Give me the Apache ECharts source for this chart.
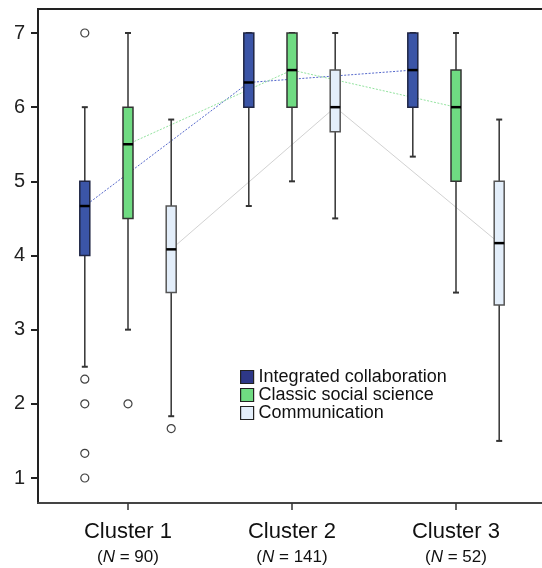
<!DOCTYPE html>
<html>
<head>
<meta charset="utf-8">
<script src="https://cdn.jsdelivr.net/npm/echarts@6/dist/echarts.min.js"></script>
<style>
  html, body { margin: 0; padding: 0; background: #fff; }
  #chart { width: 542px; height: 568px; }
</style>
</head>
<body>
<div id="chart"></div>
<script>
// Categories and group sizes
const clusters = ['Cluster 1', 'Cluster 2', 'Cluster 3'];
const clusterN = [90, 141, 52];
const groupNames = ['Integrated collaboration', 'Classic social science', 'Communication'];

// Five-number summaries per cluster: [lower whisker, Q1, median, Q3, upper whisker]
const integratedBoxes = [
  [2.5, 4, 4.667, 5, 6],
  [4.667, 6, 6.333, 7, 7],
  [5.333, 6, 6.5, 7, 7]
];
const classicBoxes = [
  [3, 4.5, 5.5, 6, 7],
  [5, 6, 6.5, 7, 7],
  [3.5, 5, 6, 6.5, 7]
];
const communicationBoxes = [
  [1.833, 3.5, 4.083, 4.667, 5.833],
  [4.5, 5.667, 6, 6.5, 7],
  [1.5, 3.333, 4.167, 5, 5.833]
];

// Outlying observations per cluster
const integratedOutliers = [[7, 2.333, 2, 1.333, 1], [], []];
const classicOutliers = [[2], [], []];
const communicationOutliers = [[1.667], [], []];

// Axis ticks
const yTicks = [1, 2, 3, 4, 5, 6, 7];
const xTicks = [1, 2, 3];

// ---- presentation ----
const FONT = '"Liberation Sans", Arial, Helvetica, sans-serif';
const BOX_W = 10;
const CAP_W = 6;
const WHISKER_COLOR = '#333';

const groups = [
  { name: groupNames[0], boxes: integratedBoxes, outliers: integratedOutliers, offset: -0.2634,
    fill: '#3b55a7', stroke: '#1f2544', legendFill: '#2e3888',
    line: { color: '#5669cc', width: 1, type: [2, 1.5] } },
  { name: groupNames[1], boxes: classicBoxes, outliers: classicOutliers, offset: 0,
    fill: '#6fdb82', stroke: '#333', legendFill: '#6fdb82',
    line: { color: '#93e39f', width: 1, type: [2, 1.5] } },
  { name: groupNames[2], boxes: communicationBoxes, outliers: communicationOutliers, offset: 0.2634,
    fill: '#e3eefa', stroke: '#555', legendFill: '#e3eefa',
    line: { color: '#d2d2d2', width: 1, type: 'solid' } }
];

function makeRenderer(g) {
  return function (params, api) {
    const x = api.value(0) + g.offset;
    const lo = api.coord([x, api.value(1)]);
    const q1 = api.coord([x, api.value(2)]);
    const md = api.coord([x, api.value(3)]);
    const q3 = api.coord([x, api.value(4)]);
    const hi = api.coord([x, api.value(5)]);
    const cx = lo[0];
    const hw = BOX_W / 2, cw = CAP_W / 2;
    const wStyle = { stroke: WHISKER_COLOR, lineWidth: 1.5 };
    const capStyle = { stroke: WHISKER_COLOR, lineWidth: 2 };
    return {
      type: 'group',
      children: [
        { type: 'line', shape: { x1: cx, y1: q3[1], x2: cx, y2: hi[1] }, style: wStyle },
        { type: 'line', shape: { x1: cx, y1: q1[1], x2: cx, y2: lo[1] }, style: wStyle },
        { type: 'line', shape: { x1: cx - cw, y1: hi[1], x2: cx + cw, y2: hi[1] }, style: capStyle },
        { type: 'line', shape: { x1: cx - cw, y1: lo[1], x2: cx + cw, y2: lo[1] }, style: capStyle },
        { type: 'rect', shape: { x: cx - hw, y: q3[1], width: BOX_W, height: q1[1] - q3[1] },
          style: { fill: g.fill, stroke: g.stroke, lineWidth: 1.5 } },
        { type: 'line', shape: { x1: cx - hw, y1: md[1], x2: cx + hw, y2: md[1] },
          style: { stroke: '#000', lineWidth: 2.5 } }
      ]
    };
  };
}

const series = [];
groups.forEach(function (g) {
  // median trend line across clusters (behind the boxes)
  series.push({
    type: 'line',
    name: g.name + ' median',
    z: 1,
    symbol: 'none',
    silent: true,
    lineStyle: g.line,
    data: g.boxes.map(function (b, i) { return [xTicks[i] + g.offset, b[2]]; })
  });
  series.push({
    type: 'custom',
    name: g.name,
    z: 3,
    itemStyle: { color: g.fill },
    encode: { x: 0, y: [1, 2, 3, 4, 5] },
    renderItem: makeRenderer(g),
    data: g.boxes.map(function (b, i) { return [xTicks[i]].concat(b); })
  });
  const pts = [];
  g.outliers.forEach(function (list, i) {
    list.forEach(function (v) { pts.push([xTicks[i] + g.offset, v]); });
  });
  series.push({
    type: 'scatter',
    name: g.name + ' outliers',
    z: 4,
    symbol: 'circle',
    symbolSize: 8,
    itemStyle: { color: '#fff', borderColor: '#111', borderWidth: 1.2 },
    data: pts
  });
});

// pixel scale: clusters sit 164px apart, first one 90px right of the left frame
const GRID_LEFT = 38, GRID_RIGHT = -4, GRID_TOP = 9, GRID_BOTTOM = 65;
const gridW = 542 - GRID_LEFT - GRID_RIGHT;
const X_MIN = 1 - 90 / 164;
const X_MAX = X_MIN + gridW / 164;
const Y_PX = 445 / 6;
const Y_MAX = 7 + (33 - GRID_TOP) / Y_PX;
const Y_MIN = 1 - (568 - GRID_BOTTOM - 478) / Y_PX;

const chart = echarts.init(document.getElementById('chart'), null, { renderer: 'canvas' });
chart.setOption({
  animation: false,
  backgroundColor: '#fff',
  textStyle: { fontFamily: FONT },
  grid: {
    left: GRID_LEFT, right: GRID_RIGHT, top: GRID_TOP, bottom: GRID_BOTTOM,
    show: true, borderColor: '#222', borderWidth: 2,
    outerBoundsMode: 'none'
  },
  legend: {
    orient: 'vertical',
    left: 240,
    top: 368,
    itemWidth: 13,
    itemHeight: 13,
    itemGap: 0,
    padding: 0,
    selectedMode: false,
    icon: 'rect',
    textStyle: { fontFamily: FONT, fontSize: 18, color: '#111', lineHeight: 18 },
    data: groups.map(function (g) {
      return { name: g.name, itemStyle: { color: g.legendFill, borderColor: '#222', borderWidth: 1.2 } };
    })
  },
  xAxis: {
    type: 'value',
    min: X_MIN,
    max: X_MAX,
    splitLine: { show: false },
    axisLine: { show: true, lineStyle: { color: '#444', width: 2 } },
    axisTick: { show: true, customValues: xTicks, length: 7, lineStyle: { color: '#333', width: 1.5 } },
    axisLabel: {
      customValues: xTicks,
      margin: 15,
      formatter: function (v) {
        const i = Math.round(v) - 1;
        return '{c|' + clusters[i] + '}\n{n|(}{i|N}{n| = ' + clusterN[i] + ')}';
      },
      rich: {
        c: { fontFamily: FONT, fontSize: 22, color: '#111', lineHeight: 27 },
        n: { fontFamily: FONT, fontSize: 17, color: '#111', lineHeight: 25 },
        i: { fontFamily: FONT, fontSize: 17, color: '#111', lineHeight: 25, fontStyle: 'italic' }
      }
    }
  },
  yAxis: {
    type: 'value',
    min: Y_MIN,
    max: Y_MAX,
    splitLine: { show: false },
    axisLine: { show: true, lineStyle: { color: '#222', width: 2 } },
    axisTick: { show: true, customValues: yTicks, length: 7, lineStyle: { color: '#222', width: 2 } },
    axisLabel: { customValues: yTicks, margin: 13, fontFamily: FONT, fontSize: 20, color: '#222' }
  },
  series: series
});
</script>
</body>
</html>
